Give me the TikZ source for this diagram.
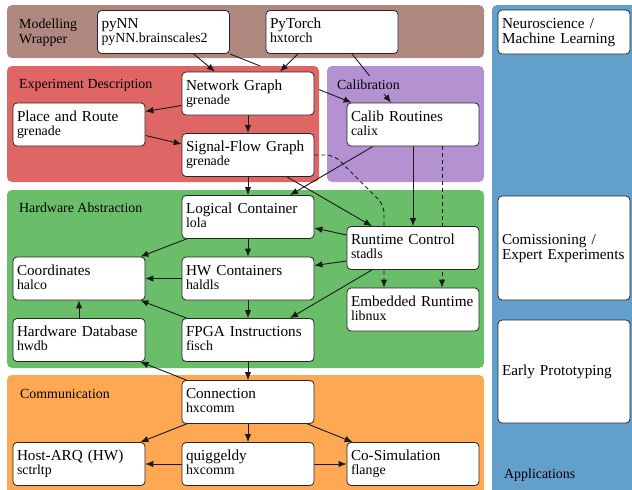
\documentclass[tikz,border=0pt]{standalone}
\usepackage{fontspec}
\setmainfont{Liberation Serif}
\usepackage{xcolor}
\usetikzlibrary{arrows.meta}

\definecolor{wrapbrown}{RGB}{176,136,128}
\definecolor{exred}{RGB}{224,102,102}
\definecolor{calpurple}{RGB}{180,146,210}
\definecolor{hwgreen}{RGB}{106,190,106}
\definecolor{comorange}{RGB}{255,168,84}
\definecolor{appblue}{RGB}{98,159,203}

\newcommand{\mainsz}{\fontsize{15.2}{14}\selectfont}
\newcommand{\subsz}{\fontsize{13.9}{14}\selectfont}
\newcommand{\labsz}{\fontsize{13.9}{14.7}\selectfont}

\pgfdeclarelayer{bandlow}
\pgfdeclarelayer{link}
\pgfdeclarelayer{bandhigh}
\pgfdeclarelayer{edges}
\pgfsetlayers{bandlow,link,bandhigh,edges,main}

\begin{document}
\begin{tikzpicture}[x=1pt, y=-1pt]
        % ================= 样式定义 =================
        \tikzset{
            % 模块: 白底圆角框, 两行 (名称 + 软件包)
            lnode/.style={draw=black!85, line width=0.8pt, fill=white, rounded corners=4pt,
                text width=124pt, inner xsep=4pt, inner ysep=8pt, align=left,
                minimum height=43pt, text height=10pt, text depth=17pt, font=\mainsz},
            % 应用框 (右侧蓝色栏)
            app_node/.style={lnode, text depth=18pt, font=\fontsize{15.2}{15}\selectfont},
            % 依赖箭头
            dep_edge/.style={-{Latex[length=8pt,width=6.5pt]}, line width=0.9pt, black!90},
            % 可选依赖 (虚线)
            opt_edge/.style={dep_edge, dash pattern=on 4pt off 3pt},
            % 层标题
            band_label/.style={font=\labsz, inner sep=0pt, anchor=base west, align=left}
        }

        \useasboundingbox (0,0) rectangle (632,490);
        \clip (0,0) rectangle (632,490);

        % ================= 结点 =================
        \node[lnode] (pynn) at (163.5,32) {pyNN\\\subsz pyNN.brainscales2};
        \node[lnode] (pyt)  at (332,32)   {PyTorch\\\subsz hxtorch};

        \node[lnode] (ng)   at (248,93.5) {Network Graph\\\subsz grenade};
        \node[lnode] (pr)   at (79,124.5) {Place and Route\\\subsz grenade};
        \node[lnode] (sfg)  at (248,155)  {Signal-Flow Graph\\\subsz grenade};
        \node[lnode] (calib) at (413,124.5) {Calib Routines\\\subsz calix};

        \node[lnode] (lc)    at (248,217)   {Logical Container\\\subsz lola};
        \node[lnode] (coord) at (79,278.5)  {Coordinates\\\subsz halco};
        \node[lnode] (hwc)   at (248,278.5) {HW Containers\\\subsz haldls};
        \node[lnode] (rc)    at (413,248)   {Runtime Control\\\subsz stadls};
        \node[lnode] (er)    at (413,309.5) {Embedded Runtime\\\subsz libnux};
        \node[lnode] (hwdb)  at (79,340)    {Hardware Database\\\subsz hwdb};
        \node[lnode] (fpga)  at (248,340)   {FPGA Instructions\\\subsz fisch};

        \node[lnode] (conn)  at (248,402)   {Connection\\\subsz hxcomm};
        \node[lnode] (harq)  at (79,464)    {Host-ARQ (HW)\\\subsz sctrltp};
        \node[lnode] (quig)  at (248,464)   {quiggeldy\\\subsz hxcomm};
        \node[lnode] (cosim) at (413,464)   {Co-Simulation\\\subsz flange};

        \node[app_node] (neuro) at (564,32) {Neuroscience /\\Machine Learning};
        \node[app_node, minimum height=104pt] (expert) at (564,248) {Comissioning /\\Expert Experiments};
        \node[app_node, text depth=3pt, minimum height=103pt] (proto) at (564,371.5) {Early Prototyping};

        % ================= 层 (背景色块) =================
        \begin{pgfonlayer}{bandlow}
            \fill[wrapbrown, rounded corners=5pt] (7,5) rectangle (484,58);
            \fill[calpurple, rounded corners=5pt] (327,66) rectangle (484,182);
        \end{pgfonlayer}
        \begin{pgfonlayer}{bandhigh}
            \fill[exred, rounded corners=5pt] (7,66) rectangle (319,182);
            \fill[hwgreen, rounded corners=5pt] (7,190) rectangle (484,368);
            \fill[comorange, rounded corners=5pt] (7,375) rectangle (484,496);
            \fill[appblue, rounded corners=5pt] (492,5) rectangle (640,496);
        \end{pgfonlayer}

        % pyNN -> calix 被红色块遮住
        \begin{pgfonlayer}{link}
            \draw[dep_edge] (pynn.south east) -- ([xshift=5pt]calib.north west);
        \end{pgfonlayer}

        % ================= 依赖箭头 =================
        \begin{pgfonlayer}{edges}
            \draw[dep_edge] ([xshift=30pt]pynn.south) -- ([xshift=-33pt]ng.north);
            \draw[dep_edge] ([xshift=-34pt]pyt.south) -- ([xshift=32pt]ng.north);
            \draw[dep_edge] ([xshift=20pt]pyt.south) -- ([xshift=-22pt]calib.north);

            \draw[dep_edge] ([yshift=-12pt]ng.west) -- ([yshift=13pt]pr.east);
            \draw[dep_edge] (ng) -- (sfg);
            \draw[dep_edge] ([yshift=-11pt]pr.east) -- ([yshift=11pt]sfg.west);

            \draw[dep_edge] (sfg) -- (lc);
            \draw[dep_edge] ([xshift=-40pt]calib.south) -- ([xshift=42pt]lc.north);
            \draw[dep_edge] ([xshift=39pt]sfg.south) -- ([xshift=-41pt]rc.north);
            \draw[opt_edge, rounded corners=8pt] (sfg.east) -- (334,155) -- (384,205) -- ([xshift=-29pt]er.north);
            \draw[dep_edge] (calib) -- (rc);
            \draw[opt_edge] ([xshift=29pt]calib.south) -- ([xshift=29pt]er.north);

            \draw[dep_edge] ([xshift=5pt]lc.south west) -- ([xshift=-5pt]coord.north east);
            \draw[dep_edge] (lc) -- (hwc);
            \draw[dep_edge] ([yshift=13pt]rc.west) -- ([yshift=-11pt]lc.east);
            \draw[dep_edge] ([yshift=-13pt]rc.west) -- ([yshift=13pt]hwc.east);
            \draw[dep_edge] ([xshift=-41pt]rc.south) -- ([xshift=42pt]fpga.north);
            \draw[dep_edge] (hwc) -- (coord);
            \draw[dep_edge] (hwc) -- (fpga);
            \draw[dep_edge] ([xshift=5pt]fpga.north west) -- ([xshift=-5pt]coord.south east);
            \draw[dep_edge] (hwdb) -- (coord);

            \draw[dep_edge] (fpga) -- (conn);
            \draw[dep_edge] ([xshift=5pt]conn.north west) -- ([xshift=-5pt]hwdb.south east);
            \draw[dep_edge] ([xshift=5pt]conn.south west) -- ([xshift=-5pt]harq.north east);
            \draw[dep_edge] (conn) -- (quig);
            \draw[dep_edge] ([xshift=-7pt]conn.south east) -- ([xshift=6pt]cosim.north west);
            \draw[dep_edge] (quig) -- (harq);
            \draw[dep_edge] (quig) -- (cosim);
        \end{pgfonlayer}

        % ================= 层标题 =================
        \node[band_label] (lab_wrap) at (19,43)  {Modelling\\Wrapper};
        \node[band_label] (lab_exp)  at (19,88)  {Experiment Description};
        \node[band_label, fill=calpurple, inner sep=4pt] (lab_cal) at (333,89.5) {Calibration};
        \node[band_label] (lab_hw)   at (19,212) {Hardware Abstraction};
        \node[band_label] (lab_com)  at (20,398) {Communication};
        \node[band_label] (lab_app)  at (504,478) {Applications};

    \end{tikzpicture}
\end{document}
